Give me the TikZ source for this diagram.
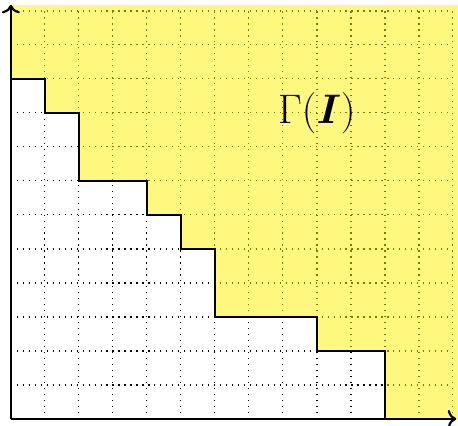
\documentclass[tikz,border=0pt]{standalone}
\usepackage{bm}
\usetikzlibrary{arrows.meta}
\begin{document}
\begin{tikzpicture}[x=5mm, y=5mm,
  grid/.style={dotted, line width=0.5pt, step=5mm},
  region/.style={fill=yellow, fill opacity=0.5},
  stair/.style={line width=0.8pt},
  axis/.style={->, line width=0.9pt}]
  \useasboundingbox (-0.32,-0.18) rectangle (13.15,12.32);
  \coordinate (O) at (0,0);
  \coordinate (xend) at (13.1,0);
  \coordinate (yend) at (0,12.18);
  \draw[grid] (0,0) grid (13,12);
  % the upper set
  \fill[region] (0,10) -| (1,9) -| (2,7) -| (4,6) -| (5,5) -| (6,3) -| (9,2) -| (11,0)
    -- (13.15,0) -- (13.15,12.18) -- (0,12.18) -- cycle;
  \draw[stair] (0,10) -| (1,9) -| (2,7) -| (4,6) -| (5,5) -| (6,3) -| (9,2) -| (11,0);
  \draw[axis] (O) -- (xend);
  \draw[axis] (O) -- (yend);
  \node (gamma) at (9,9) {\fontsize{16}{18}\selectfont $\Gamma(\bm{I})$};
\end{tikzpicture}
\end{document}
